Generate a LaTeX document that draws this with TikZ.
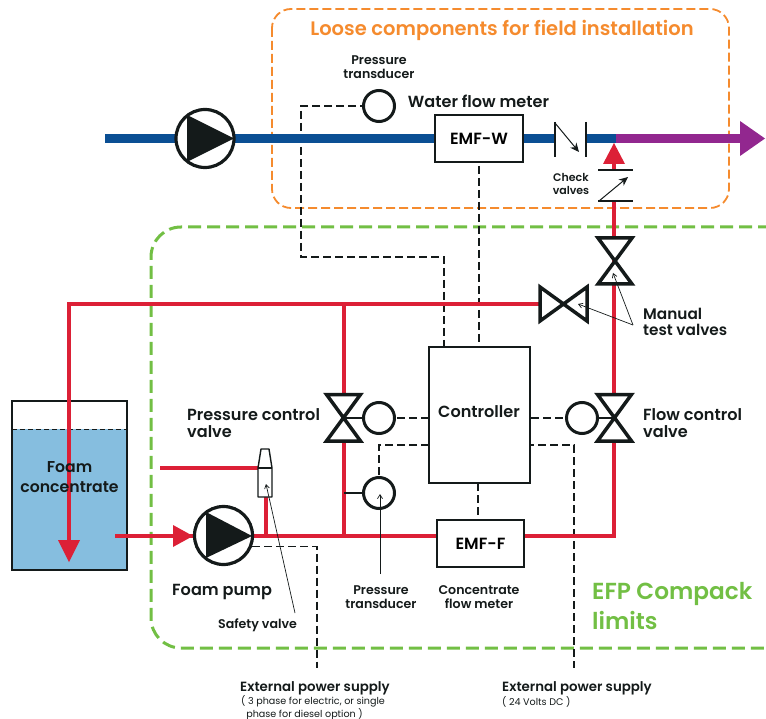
\documentclass[tikz,border=0pt]{standalone}
\usepackage{fontspec}
\setmainfont{Poppins}[BoldFont={Poppins SemiBold}]
\usetikzlibrary{arrows.meta}
\definecolor{redp}{HTML}{DC2036}
\definecolor{bluep}{HTML}{0B4F94}
\definecolor{purp}{HTML}{92278F}
\definecolor{ink}{HTML}{141A1A}
\definecolor{orng}{HTML}{F58B2E}
\definecolor{grn}{HTML}{72BF44}
\definecolor{tankb}{HTML}{86BEDF}
\tikzset{
 redline/.style={draw=redp,line width=4pt},
 valveshape/.style={draw=ink,line width=3.5pt,line join=miter,fill=white},
 sigdash/.style={draw=ink,line width=1.2pt,dash pattern=on 8pt off 4pt},
 leader/.style={draw=ink,line width=.7pt,-{Straight Barb[length=4pt,width=5pt]}},
 boxnode/.style={draw=ink,line width=1.2pt,fill=white,font=\fontsize{16.2}{16}\selectfont\bfseries},
 gauge/.style={circle,draw=ink,line width=3pt,fill=white,minimum size=31pt,inner sep=0pt},
 pumpbody/.style={circle,draw=ink,line width=3.2pt,fill=white,minimum size=58pt,inner sep=0pt},
 lab/.style={text=ink,align=center,inner sep=0pt,font=\fontsize{16.1}{17}\selectfont\bfseries},
 smalllab/.style={text=ink,align=center,inner sep=0pt,font=\fontsize{12.6}{14}\selectfont\bfseries},
}
\begin{document}
\begin{tikzpicture}[x=1pt,y=-1pt]
\useasboundingbox (0,0) rectangle (766,719);
% limits
\draw[orng,line width=1.8pt,dash pattern=on 9pt off 4pt,rounded corners=19pt] (272,9) rectangle (729,208);
\draw[grn,line width=3pt,dash pattern=on 13pt off 6pt,rounded corners=30pt] (790,227) -- (151,227) -- (151,648) -- (790,648);
% tank
\fill[tankb] (12,429) rectangle (127,570);
\draw[ink,line width=1.2pt] (12,401) rectangle (127,570);
\draw[ink,line width=1pt,dash pattern=on 5pt off 3pt] (12,429) -- (127,429);
% dashed signals
\coordinate (ptA) at (379,106);
\draw[sigdash] (368,106) -- (301,106) -- (301,257) -- (444,257) -- (444,347);
\draw[sigdash] (479,166) -- (479,347);
\draw[sigdash] (397,418) -- (429,418);
\draw[sigdash] (531,418) -- (567,418);
\draw[sigdash] (429,445) -- (379,445) -- (379,478);
\draw[sigdash] (478,445) -- (574,445) -- (574,668);
\draw[sigdash] (478,483) -- (478,521);
\draw[sigdash] (252,546.5) -- (317,546.5) -- (317,668);
% red pipes
\draw[redline] (69,545) -- (69,304) -- (540,304);
\draw[redline] (344,304) -- (344,535);
\draw[redline] (115,536) -- (437,536);
\draw[redline] (524,536) -- (614,536) -- (614,237);
\draw[redline] (614,201) -- (614,237);
\draw[redline] (614,170) -- (614,160);
\draw[redline] (160,468) -- (258,468);
\draw[redline] (266,497) -- (266,536);
\draw[ink,line width=2.5pt] (344,493) -- (364,493);
% arrows
\fill[redp] (58,540) -- (80,540) -- (69,562) -- cycle;
\fill[redp] (173,525) -- (193,536) -- (173,547) -- cycle;
\fill[redp] (603,164) -- (625,164) -- (614,143) -- cycle;
\node[lab,font=\fontsize{15.7}{20}\selectfont\bfseries] (foam) at (69.5,477.5) {Foam\\concentrate};
% water
\draw[bluep,line width=9pt] (105,138.5) -- (555,138.5);
\draw[bluep,line width=9pt] (586,138.5) -- (616,138.5);
\draw[purp,line width=9pt] (616,138.5) -- (745,138.5);
\fill[purp] (740,121) -- (765,138.5) -- (740,156) -- cycle;
% main pump
\node[pumpbody] (pumpa) at (205,138.5) {};
\fill[ink] (187,115) -- (234,138.5) -- (187,162) -- cycle;
% foam pump
\node[pumpbody] (pumpb) at (223.5,535.5) {};
\fill[ink] (206,512) -- (252,536) -- (206,558) -- cycle;
% boxes
\node[boxnode,minimum width=88pt,minimum height=47pt,inner sep=0pt] (emfw) at (479,138.5) {EMF-W};
\node[boxnode,minimum width=87pt,minimum height=47pt,inner sep=0pt] (emff) at (480.5,543.5) {EMF-F};
\node[boxnode,minimum width=101pt,minimum height=136pt,inner sep=0pt] (ctrl) at (479.5,415) {};
\node[lab] at (479,412) {Controller};
% check valves
\draw[ink,line width=1.1pt] (555,122) -- (555,157);
\draw[ink,line width=1.1pt] (586,122) -- (586,157);
\draw[ink,line width=1pt,-{Stealth[length=9pt,width=8pt]}] (555,123) -- (579,152);
\draw[ink,line width=1.1pt] (598,170) -- (633,170);
\draw[ink,line width=1.1pt] (598,201) -- (633,201);
\draw[ink,line width=1pt,-{Stealth[length=9pt,width=8pt]}] (599,201) -- (628,177);
% valves
\draw[valveshape] (598,238) -- (632,238) -- (598,284) -- (632,284) -- cycle;
\draw[valveshape] (540,287) -- (587,321) -- (587,287) -- (540,321) -- cycle;
\draw[valveshape] (326.5,394.5) -- (360.5,394.5) -- (326.5,441) -- (360.5,441) -- cycle;
\draw[valveshape] (597.5,394.5) -- (631.5,394.5) -- (597.5,441) -- (631.5,441) -- cycle;
% gauges
\node[gauge] (g1) at (379,106) {};
\node[gauge] (g2) at (379,418) {};
\node[gauge] (g3) at (582,418) {};
\node[gauge] (g4) at (379,493) {};
\draw[ink,line width=2.5pt] (g2) -- (344,418);
\draw[ink,line width=2.5pt] (g3) -- (614,418);
% safety valve
\draw[ink,line width=1.4pt,fill=white,line join=round] (258,468) -- (258,497) -- (272,497) -- (272,468) -- (269,449) -- (261,449) -- cycle;
\draw[ink,line width=1.2pt] (258,468) -- (272,468);
% labels
\node[text=orng,inner sep=0pt,font=\fontsize{19.5}{20}\selectfont\bfseries] at (502,30.5) {Loose components for field installation};
\node[smalllab] (pt1) at (379,67) {Pressure\\transducer};
\node[lab] at (478.5,101.5) {Water flow meter};
\node[smalllab,font=\fontsize{11}{12.5}\selectfont\bfseries] at (571,184) {Check\\valves};
\node[lab,align=left,anchor=north west,font=\fontsize{15.3}{16.5}\selectfont\bfseries] at (643,307.5) {Manual\\test valves};
\node[lab,align=left,anchor=north west] at (187,408) {Pressure control\\valve};
\node[lab,align=left,anchor=north west] at (643,408) {Flow control\\valve};
\node[lab,anchor=west] at (172,592) {Foam pump};
\node[smalllab] at (257.5,625) {Safety valve};
\node[smalllab] (pt2) at (381,597.5) {Pressure\\transducer};
\node[smalllab] at (479,597.5) {Concentrate\\flow meter};
\node[text=grn,align=left,anchor=north west,inner sep=0pt,font=\fontsize{23.2}{30}\selectfont\bfseries] at (592,582) {EFP Compack\\limits};
\node[smalllab,anchor=west,font=\fontsize{13.35}{14}\selectfont\bfseries] at (240,688) {External power supply};
\node[text=ink,align=left,anchor=north west,inner sep=0pt,font=\fontsize{9.6}{13}\selectfont] at (241,695) {( 3 phase for electric, or single\\\ \ phase for diesel option )};
\node[smalllab,anchor=west,font=\fontsize{13.35}{14}\selectfont\bfseries] at (502,688) {External power supply};
\node[text=ink,anchor=west,inner sep=0pt,font=\fontsize{9.6}{13}\selectfont] at (502,702) {( 24 Volts DC )};
% leaders
\coordinate (mtv) at (633,325);
\draw[leader] (mtv) -- (613,273);
\draw[leader] (mtv) -- (578,304);
\coordinate (sv1) at (295,613);
\draw[leader] (sv1) -- (266,484);
\coordinate (pt2top) at (380,574);
\draw[leader] (pt2top) -- (380,494);
\end{tikzpicture}
\end{document}
